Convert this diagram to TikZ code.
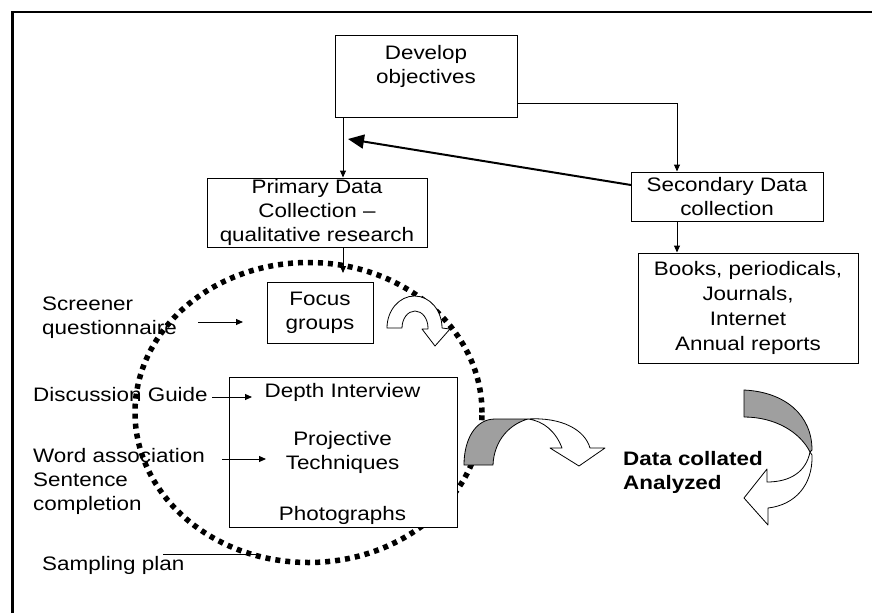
\documentclass[tikz,border=0pt]{standalone}
\usepackage{fontspec}
\setmainfont{Liberation Sans}[FakeStretch=1.15]
\usetikzlibrary{arrows.meta}
\newcommand\diagfont{\fontsize{19.5}{24}\selectfont}
\begin{document}
\begin{tikzpicture}[x=1pt,y=-1pt,
 every node/.style={font=\diagfont, inner sep=0pt},
 box/.style={draw, line width=1pt, fill=white, align=center},
 lbl/.style={align=left, anchor=west},
 arr/.style={line width=1pt, -{Triangle[length=7pt,width=6pt]}},
 bigarr/.style={line width=2pt, -{Triangle[length=16pt,width=14pt]}},
 ribbon/.style={draw, line width=0.8pt, line join=round},
 dots/.style={line width=5.5pt, dash pattern=on 5pt off 5pt}]
\useasboundingbox (0,0) rectangle (872,613);
\fill[white] (0,0) rectangle (872,613);
\draw[line width=2.7pt] (12.5,613) -- (12.5,12) -- (872,12);

% left labels (under the dotted circle)
\node[lbl] (scr) at (42,318) {Screener\\questionnaire};
\node[lbl] (disc) at (33,395) {Discussion Guide};
\node[lbl] (word) at (33,481) {Word association\\Sentence\\completion};
\node[lbl] (samp) at (42,565) {Sampling plan};

% dotted circle
\draw[dots] (308.5,412.5) ellipse [x radius=173.5pt, y radius=150pt];

% boxes
\node[box, minimum width=182pt, minimum height=82pt] (dev) at (426,76) {Develop\\objectives\\\mbox{}};
\node[box, minimum width=220pt, minimum height=69pt] (prim) at (317,212.5) {Primary Data\\Collection –\\qualitative research};
\node[box, minimum width=192pt, minimum height=49pt] (sec) at (727,196.5) {Secondary Data\\collection};
\node[box, minimum width=220pt, minimum height=110pt] (books) at (748,308) {Books, periodicals,\\[1pt]Journals,\\[1pt]Internet\\[1pt]Annual reports};
\node[box, minimum width=106pt, minimum height=61pt] (focus) at (320,312.5) {Focus\\groups};
\node[box, minimum width=228pt, minimum height=150pt] (depth) at (343,452) {};
\node (dint) at (342.5,392) {Depth Interview};
\node[align=center] (proj) at (342.5,452.5) {Projective\\Techniques};
\node (photo) at (342.5,515) {Photographs};
\node[align=left, anchor=west, font=\diagfont\bfseries] (data) at (623,472) {Data collated\\Analyzed};

% connectors
\coordinate (d1) at (517,103);
\coordinate (xs) at (677,0);
\coordinate (xp) at (343,0);
\draw[arr] (d1) -| (sec.north -| xs);
\draw[arr] (dev.south -| xp) -- (prim.north -| xp);
\coordinate (s1) at (631,185);
\coordinate (p1) at (348,139);
\draw[bigarr] (s1) -- (p1);
\draw[arr] (sec.south -| xs) -- (books.north -| xs);
\coordinate (c1) at (343,273);
\draw[arr] (prim.south -| xp) -- (c1);

\coordinate (a1s) at (198,322); \coordinate (a1e) at (243,322);
\draw[arr] (a1s) -- (a1e);
\coordinate (a2s) at (212,397); \coordinate (a2e) at (252,397);
\draw[arr] (a2s) -- (a2e);
\coordinate (a3s) at (222,459); \coordinate (a3e) at (266,459);
\draw[arr] (a3s) -- (a3e);
\coordinate (a4s) at (163,554); \coordinate (a4e) at (260,554);
\draw[line width=1pt] (a4s) -- (a4e);

% small U-turn arrow
\draw[ribbon, fill=white] (387,328) .. controls (387,310.3) and (399.3,296) .. (414.5,296)
  .. controls (429.7,296) and (442,310.3) .. (442,328) -- (450,329) -- (435,346) -- (422,329)
  -- (428,329) -- (428,328) .. controls (428,318.6) and (422.2,311) .. (415,311)
  .. controls (407.8,311) and (402,318.6) .. (402,328) -- cycle;

% middle curved arrow
\draw[ribbon, fill=white] (528,419) .. controls (562,417) and (585,430) .. (590,448) -- (605,448)
  -- (579,466) -- (550,448) -- (562,448) .. controls (556,432) and (544,421) .. (528,419) -- cycle;
\draw[ribbon, fill=gray!75] (464,465) .. controls (464,440) and (475,419) .. (495,419) -- (528,419)
  .. controls (510,424) and (494,440) .. (493,465) -- cycle;

% right curved arrow
\draw[ribbon, fill=white] (810,452) .. controls (806,472) and (790,482) .. (767,482) -- (767,469)
  -- (744,498) -- (768,525) -- (768,508) .. controls (795,505) and (813,485) .. (812,455) -- cycle;
\draw[ribbon, fill=gray!75] (744,390) .. controls (785,392) and (812,415) .. (812,450)
  -- (810,452) .. controls (800,432) and (775,417) .. (744,417) -- cycle;
\end{tikzpicture}
\end{document}
